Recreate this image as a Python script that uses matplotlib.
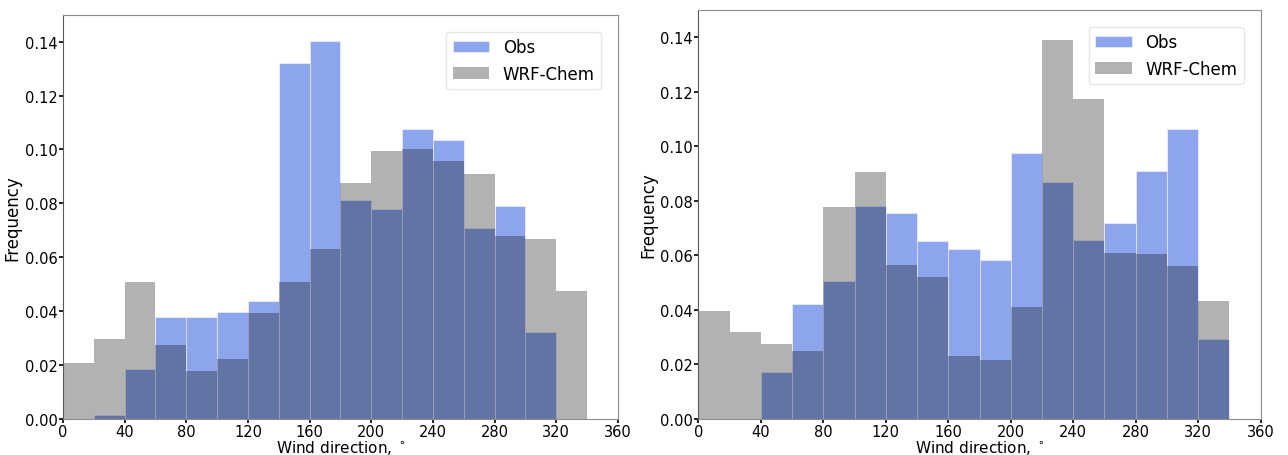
import numpy as np
import matplotlib
matplotlib.use('Agg')
import matplotlib.pyplot as plt

# 20 degree bins, 0..360
edges = np.arange(0, 361, 20)
centers = edges[:-1] + 10

obs_a = [0.0, 0.0013, 0.0183, 0.0377, 0.0377, 0.0396, 0.0438, 0.132, 0.1404,
         0.0813, 0.078, 0.1077, 0.1037, 0.071, 0.079, 0.0322, 0.0, 0.0]
wrf_a = [0.0205, 0.0297, 0.0507, 0.0275, 0.0175, 0.0222, 0.0394, 0.0507, 0.063,
         0.0877, 0.0995, 0.100, 0.0956, 0.0908, 0.0677, 0.0669, 0.0474, 0.0]

obs_b = [0.0, 0.0, 0.0172, 0.0419, 0.0505, 0.0779, 0.0753, 0.065, 0.0621,
         0.0581, 0.0976, 0.087, 0.0657, 0.0718, 0.0908, 0.1064, 0.0291, 0.0]
wrf_b = [0.0395, 0.0317, 0.0272, 0.0247, 0.0777, 0.0905, 0.0564, 0.0518, 0.0229,
         0.0216, 0.041, 0.1388, 0.1174, 0.0606, 0.0603, 0.0559, 0.0432, 0.0]

plt.rcParams['font.family'] = 'DejaVu Sans'
plt.rcParams['font.size'] = 11

fig = plt.figure(figsize=(12.88, 4.56), dpi=100)
ax1 = fig.add_axes([0.0489, 0.080, 0.4309, 0.885])
ax2 = fig.add_axes([0.5422, 0.080, 0.4366, 0.896])


def draw(ax, obs, wrf):
    ax.hist(centers, bins=edges, weights=obs, color='royalblue', alpha=0.6,
            edgecolor='white', linewidth=0.6, label='Obs')
    ax.hist(centers, bins=edges, weights=wrf, color='black', alpha=0.3,
            linewidth=0, label='WRF-Chem')
    ax.set_xlim(0, 360)
    ax.set_ylim(0, 0.15)
    ax.set_xticks(np.arange(0, 361, 40))
    ax.set_yticks(np.arange(0, 0.141, 0.02))
    ax.yaxis.set_major_formatter(matplotlib.ticker.FormatStrFormatter('%.2f'))
    ax.tick_params(length=3, width=1.2, pad=1, labelsize=10.5)
    ax.set_xlabel('Wind direction, $^\\circ$', fontsize=11, labelpad=-1)
    ax.set_ylabel('Frequency', fontsize=12, labelpad=2)
    for s in ['top', 'right', 'bottom']:
        ax.spines[s].set_color('0.55')
        ax.spines[s].set_linewidth(0.8)
    ax.spines['left'].set_color('0.35')
    ax.spines['left'].set_linestyle((0, (2, 1)))
    ax.spines['left'].set_linewidth(0.8)
    ax.legend(loc='upper right', fontsize=12, borderaxespad=1.0,
              handlelength=2.2, framealpha=1, edgecolor='0.9')


draw(ax1, obs_a, wrf_a)
draw(ax2, obs_b, wrf_b)

plt.savefig('out.png', dpi=100)
